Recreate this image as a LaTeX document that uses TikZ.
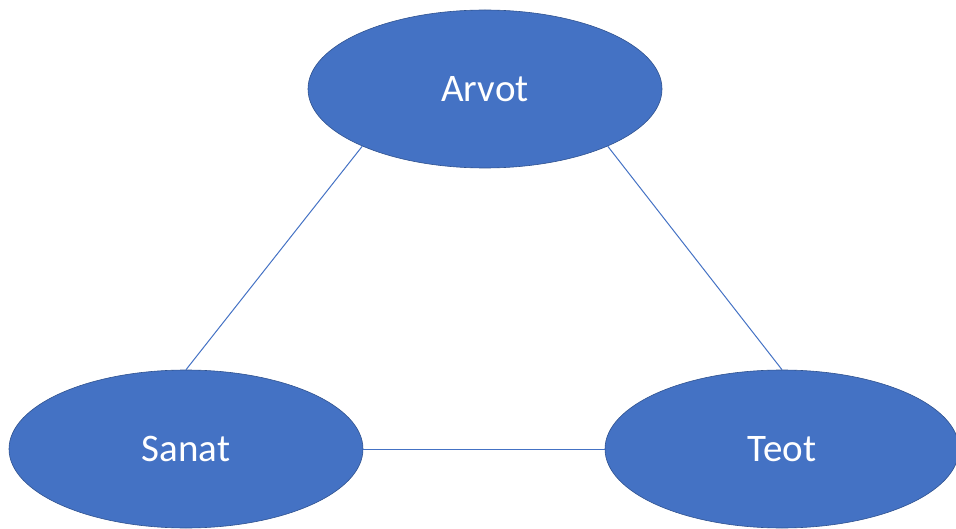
\documentclass[tikz,border=0pt]{standalone}
\usepackage{fontspec}
\setmainfont{Carlito}
\usetikzlibrary{shapes.geometric}
\definecolor{ovalfill}{HTML}{4472C4}
\definecolor{ovaledge}{HTML}{2F528F}
\definecolor{linkcol}{HTML}{4472C4}
\tikzset{
  oval/.style={ellipse, fill=ovalfill, draw=ovaledge, line width=0.6pt,
    minimum width=354pt, minimum height=158pt, inner sep=0pt,
    text=white, font=\fontsize{39}{46}\selectfont},
  link/.style={draw=linkcol, line width=1pt}
}
\begin{document}
\begin{tikzpicture}[x=1pt,y=-1pt]
\useasboundingbox (0,0) rectangle (956,529);
\node[oval] (arvot) at (485,89) {\raisebox{-2pt}{Arvot}};
\node[oval] (sanat) at (186,449) {\raisebox{-2pt}{Sanat}};
\node[oval] (teot) at (782,449) {\raisebox{-2pt}{Teot}};
\draw[link] (arvot.205) -- (sanat.north);
\draw[link] (arvot.335) -- (teot.north);
\draw[link] (sanat.east) -- (teot.west);
\end{tikzpicture}
\end{document}
